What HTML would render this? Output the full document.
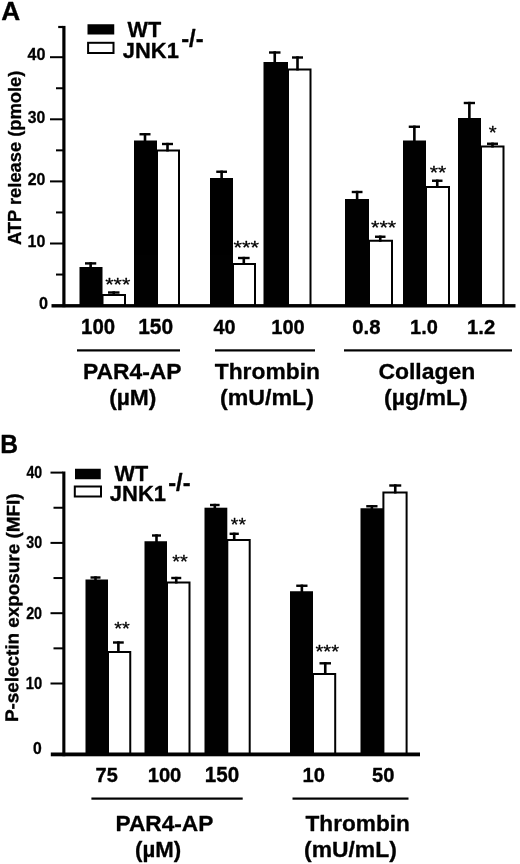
<!DOCTYPE html>
<html><head><meta charset="utf-8"><title>Figure</title>
<style>
html,body{margin:0;padding:0;background:#fff;}
body{width:520px;height:864px;overflow:hidden;font-family:"Liberation Sans",sans-serif;}
svg{display:block;will-change:transform;opacity:0.999;}
svg text{font-family:"Liberation Sans",sans-serif;fill:#000;stroke:#000;stroke-width:0.3px;stroke-linejoin:round;}
</style></head><body>
<svg width="520" height="864" viewBox="0 0 520 864">
<rect x="0" y="0" width="520" height="864" fill="#fff"/>
<rect x="102.50" y="295.00" width="22.50" height="10.60" fill="#fff" stroke="#000" stroke-width="2.0"/>
<rect x="108.00" y="291.30" width="11.50" height="2.40" fill="#000"/>
<rect x="112.45" y="291.30" width="2.60" height="4.70" fill="#000"/>
<rect x="79.50" y="267.00" width="23.00" height="38.60" fill="#000"/>
<rect x="85.00" y="262.20" width="11.25" height="2.40" fill="#000"/>
<rect x="89.33" y="262.20" width="2.60" height="5.80" fill="#000"/>
<rect x="157.00" y="150.50" width="22.00" height="155.10" fill="#fff" stroke="#000" stroke-width="2.0"/>
<rect x="162.00" y="142.80" width="11.00" height="2.40" fill="#000"/>
<rect x="166.20" y="142.80" width="2.60" height="8.70" fill="#000"/>
<rect x="134.00" y="140.50" width="23.00" height="165.10" fill="#000"/>
<rect x="139.50" y="133.05" width="11.00" height="2.40" fill="#000"/>
<rect x="143.70" y="133.05" width="2.60" height="8.45" fill="#000"/>
<rect x="233.00" y="264.00" width="22.00" height="41.60" fill="#fff" stroke="#000" stroke-width="2.0"/>
<rect x="238.00" y="256.80" width="11.60" height="2.40" fill="#000"/>
<rect x="242.50" y="256.80" width="2.60" height="8.20" fill="#000"/>
<rect x="210.00" y="178.00" width="23.00" height="127.60" fill="#000"/>
<rect x="216.25" y="170.55" width="10.75" height="2.40" fill="#000"/>
<rect x="220.32" y="170.55" width="2.60" height="8.45" fill="#000"/>
<rect x="288.00" y="69.50" width="22.50" height="236.10" fill="#fff" stroke="#000" stroke-width="2.0"/>
<rect x="292.00" y="56.30" width="11.00" height="2.40" fill="#000"/>
<rect x="296.20" y="56.30" width="2.60" height="14.20" fill="#000"/>
<rect x="263.50" y="62.00" width="24.50" height="243.60" fill="#000"/>
<rect x="269.00" y="51.30" width="11.50" height="2.40" fill="#000"/>
<rect x="273.45" y="51.30" width="2.60" height="11.70" fill="#000"/>
<rect x="369.00" y="240.75" width="23.00" height="64.85" fill="#fff" stroke="#000" stroke-width="2.0"/>
<rect x="375.00" y="235.55" width="10.50" height="2.40" fill="#000"/>
<rect x="378.95" y="235.55" width="2.60" height="6.20" fill="#000"/>
<rect x="345.00" y="199.00" width="24.00" height="106.60" fill="#000"/>
<rect x="351.75" y="190.80" width="10.75" height="2.40" fill="#000"/>
<rect x="355.82" y="190.80" width="2.60" height="9.20" fill="#000"/>
<rect x="426.00" y="187.00" width="23.00" height="118.60" fill="#fff" stroke="#000" stroke-width="2.0"/>
<rect x="432.00" y="179.55" width="10.50" height="2.40" fill="#000"/>
<rect x="435.95" y="179.55" width="2.60" height="8.45" fill="#000"/>
<rect x="403.00" y="140.50" width="23.00" height="165.10" fill="#000"/>
<rect x="408.75" y="125.55" width="11.25" height="2.40" fill="#000"/>
<rect x="413.07" y="125.55" width="2.60" height="15.95" fill="#000"/>
<rect x="481.00" y="146.50" width="22.50" height="159.10" fill="#fff" stroke="#000" stroke-width="2.0"/>
<rect x="487.00" y="142.55" width="11.00" height="2.40" fill="#000"/>
<rect x="491.20" y="142.55" width="2.60" height="4.95" fill="#000"/>
<rect x="458.00" y="118.00" width="23.00" height="187.60" fill="#000"/>
<rect x="463.75" y="101.80" width="11.25" height="2.40" fill="#000"/>
<rect x="468.07" y="101.80" width="2.60" height="17.20" fill="#000"/>
<rect x="62.30" y="25.90" width="3.20" height="281.30" fill="#000"/>
<rect x="51.50" y="304.10" width="464.00" height="3.40" fill="#000"/>
<rect x="50.00" y="242.50" width="13.00" height="2.00" fill="#000"/>
<rect x="50.00" y="180.40" width="13.00" height="2.00" fill="#000"/>
<rect x="50.00" y="118.30" width="13.00" height="2.00" fill="#000"/>
<rect x="50.00" y="56.20" width="13.00" height="2.00" fill="#000"/>
<rect x="56.00" y="273.55" width="7.00" height="2.00" fill="#000"/>
<rect x="56.00" y="211.45" width="7.00" height="2.00" fill="#000"/>
<rect x="56.00" y="149.35" width="7.00" height="2.00" fill="#000"/>
<rect x="56.00" y="87.25" width="7.00" height="2.00" fill="#000"/>
<rect x="58.20" y="25.90" width="4.80" height="2.20" fill="#000"/>
<text transform="translate(27.45,60.40) scale(1.0074,1.0487)" font-size="16" font-weight="bold">40</text>
<text transform="translate(27.83,122.50) scale(0.9851,1.0255)" font-size="16" font-weight="bold">30</text>
<text transform="translate(27.70,184.60) scale(0.9925,1.0332)" font-size="16" font-weight="bold">20</text>
<text transform="translate(27.60,246.70) scale(0.9984,1.0394)" font-size="16" font-weight="bold">10</text>
<text transform="translate(38.97,308.80) scale(1.0098,1.0512)" font-size="16" font-weight="bold">0</text>
<text transform="translate(81.12,334.40) scale(1.1342,1.1807)" font-size="18" font-weight="bold">100</text>
<text transform="translate(138.19,334.40) scale(1.1662,1.2140)" font-size="18" font-weight="bold">150</text>
<text transform="translate(213.47,334.40) scale(1.1026,1.1478)" font-size="18" font-weight="bold">40</text>
<text transform="translate(271.24,334.40) scale(1.1164,1.1622)" font-size="18" font-weight="bold">100</text>
<text transform="translate(352.25,334.40) scale(1.1284,1.1747)" font-size="18" font-weight="bold">0.8</text>
<text transform="translate(410.05,334.40) scale(1.1114,1.1569)" font-size="18" font-weight="bold">1.0</text>
<text transform="translate(467.03,334.40) scale(1.1286,1.1749)" font-size="18" font-weight="bold">1.2</text>
<rect x="77.00" y="349.30" width="103.00" height="2.20" fill="#000"/>
<rect x="215.00" y="349.30" width="100.00" height="2.20" fill="#000"/>
<rect x="344.00" y="349.30" width="168.00" height="2.20" fill="#000"/>
<text transform="translate(82.94,379.00) scale(1.0397,1.0182)" font-size="22" font-weight="bold">PAR4-AP</text>
<text transform="translate(109.13,404.50) scale(1.0368,1.0000)" font-size="22" font-weight="bold">(µM)</text>
<text transform="translate(214.74,379.00) scale(1.0383,1.0188)" font-size="22" font-weight="bold">Thrombin</text>
<text transform="translate(220.02,404.50) scale(1.0529,1.0000)" font-size="22" font-weight="bold">(mU/mL)</text>
<text transform="translate(378.39,379.00) scale(1.0435,1.0188)" font-size="22" font-weight="bold">Collagen</text>
<text transform="translate(384.02,404.50) scale(1.0486,1.0000)" font-size="22" font-weight="bold">(µg/mL)</text>
<text transform="translate(105.13,290.58) scale(0.9800,0.8516)" font-size="22" font-weight="normal">***</text>
<text transform="translate(233.43,254.28) scale(1.0000,0.8516)" font-size="22" font-weight="normal">***</text>
<text transform="translate(371.03,234.38) scale(0.9840,0.8516)" font-size="22" font-weight="normal">***</text>
<text transform="translate(429.64,179.18) scale(0.9697,0.8516)" font-size="22" font-weight="normal">**</text>
<text transform="translate(488.65,139.18) scale(0.9270,0.8516)" font-size="22" font-weight="normal">*</text>
<rect x="87.50" y="24.25" width="26.75" height="10.25" fill="#000"/>
<rect x="88.1" y="42.8" width="25.4" height="10.2" fill="#fff" stroke="#000" stroke-width="2"/>
<text transform="translate(127.60,37.30) scale(1.0308,1.0730)" font-size="21" font-weight="bold">WT</text>
<text transform="translate(122.81,57.50) scale(1.0464,1.0893)" font-size="21" font-weight="bold">JNK1</text>
<text transform="translate(181.16,46.90) scale(1.0771,1.1213)" font-size="22" font-weight="bold">-/-</text>
<text transform="translate(1.32,20.00) scale(1.0938,1.0485)" font-size="24" font-weight="bold">A</text>
<text transform="translate(20.80,245.02) rotate(-90.000) scale(1.0475,1.0333)" font-size="17.5" font-weight="bold">ATP release (pmole)</text>
<rect x="108.00" y="652.00" width="22.25" height="102.50" fill="#fff" stroke="#000" stroke-width="2.0"/>
<rect x="113.00" y="641.30" width="10.75" height="2.40" fill="#000"/>
<rect x="117.08" y="641.30" width="2.60" height="11.70" fill="#000"/>
<rect x="85.50" y="579.50" width="22.50" height="175.00" fill="#000"/>
<rect x="90.50" y="576.30" width="10.00" height="2.40" fill="#000"/>
<rect x="94.20" y="576.30" width="2.60" height="4.20" fill="#000"/>
<rect x="167.00" y="582.50" width="22.50" height="172.00" fill="#fff" stroke="#000" stroke-width="2.0"/>
<rect x="171.25" y="576.80" width="10.00" height="2.40" fill="#000"/>
<rect x="174.95" y="576.80" width="2.60" height="6.70" fill="#000"/>
<rect x="144.50" y="541.25" width="22.50" height="213.25" fill="#000"/>
<rect x="152.00" y="534.30" width="9.00" height="2.40" fill="#000"/>
<rect x="155.20" y="534.30" width="2.60" height="7.95" fill="#000"/>
<rect x="227.30" y="540.00" width="22.40" height="214.50" fill="#fff" stroke="#000" stroke-width="2.0"/>
<rect x="229.60" y="532.60" width="9.20" height="2.40" fill="#000"/>
<rect x="232.90" y="532.60" width="2.60" height="8.40" fill="#000"/>
<rect x="204.50" y="507.70" width="22.80" height="246.80" fill="#000"/>
<rect x="210.00" y="503.80" width="9.60" height="2.40" fill="#000"/>
<rect x="213.50" y="503.80" width="2.60" height="4.90" fill="#000"/>
<rect x="313.00" y="674.00" width="22.20" height="80.50" fill="#fff" stroke="#000" stroke-width="2.0"/>
<rect x="319.50" y="662.10" width="11.50" height="2.40" fill="#000"/>
<rect x="323.95" y="662.10" width="2.60" height="12.90" fill="#000"/>
<rect x="290.00" y="591.25" width="23.00" height="163.25" fill="#000"/>
<rect x="296.25" y="584.55" width="11.25" height="2.40" fill="#000"/>
<rect x="300.57" y="584.55" width="2.60" height="7.70" fill="#000"/>
<rect x="383.40" y="492.50" width="23.20" height="262.00" fill="#fff" stroke="#000" stroke-width="2.0"/>
<rect x="389.25" y="484.30" width="12.00" height="2.40" fill="#000"/>
<rect x="393.95" y="484.30" width="2.60" height="9.20" fill="#000"/>
<rect x="360.50" y="508.25" width="23.50" height="246.25" fill="#000"/>
<rect x="366.25" y="505.05" width="11.25" height="2.40" fill="#000"/>
<rect x="370.57" y="505.05" width="2.60" height="4.20" fill="#000"/>
<rect x="62.30" y="471.50" width="3.10" height="284.70" fill="#000"/>
<rect x="50.80" y="752.50" width="369.20" height="3.80" fill="#000"/>
<rect x="50.50" y="682.50" width="12.50" height="2.00" fill="#000"/>
<rect x="50.50" y="612.20" width="12.50" height="2.00" fill="#000"/>
<rect x="50.50" y="541.90" width="12.50" height="2.00" fill="#000"/>
<rect x="50.50" y="471.60" width="12.50" height="2.00" fill="#000"/>
<rect x="53.50" y="647.35" width="9.50" height="2.00" fill="#000"/>
<rect x="53.50" y="577.05" width="9.50" height="2.00" fill="#000"/>
<rect x="53.50" y="506.75" width="9.50" height="2.00" fill="#000"/>
<text transform="translate(26.38,478.10) scale(0.8830,1.0157)" font-size="16" font-weight="bold">40</text>
<text transform="translate(26.27,548.40) scale(0.8896,1.0157)" font-size="16" font-weight="bold">30</text>
<text transform="translate(26.15,618.70) scale(0.8962,1.0157)" font-size="16" font-weight="bold">20</text>
<text transform="translate(25.68,689.00) scale(0.9240,1.0157)" font-size="16" font-weight="bold">10</text>
<text transform="translate(33.09,754.40) scale(0.9836,1.0157)" font-size="16" font-weight="bold">0</text>
<text transform="translate(95.57,782.00) scale(1.1093,1.1548)" font-size="18" font-weight="bold">75</text>
<text transform="translate(147.64,782.00) scale(1.1236,1.1696)" font-size="18" font-weight="bold">100</text>
<text transform="translate(204.81,782.00) scale(1.1449,1.1918)" font-size="18" font-weight="bold">150</text>
<text transform="translate(302.54,782.00) scale(1.1200,1.1659)" font-size="18" font-weight="bold">10</text>
<text transform="translate(371.90,782.00) scale(1.1221,1.1682)" font-size="18" font-weight="bold">50</text>
<rect x="91.40" y="797.50" width="151.30" height="2.20" fill="#000"/>
<rect x="292.50" y="797.50" width="116.00" height="2.20" fill="#000"/>
<text transform="translate(115.45,831.30) scale(1.0321,0.9983)" font-size="22" font-weight="bold">PAR4-AP</text>
<text transform="translate(135.06,857.00) scale(1.0115,1.0000)" font-size="22" font-weight="bold">(µM)</text>
<text transform="translate(305.54,831.30) scale(1.0293,1.0000)" font-size="22" font-weight="bold">Thrombin</text>
<text transform="translate(304.03,857.00) scale(1.0402,1.0000)" font-size="22" font-weight="bold">(mU/mL)</text>
<text transform="translate(114.16,635.38) scale(0.9091,0.8516)" font-size="22" font-weight="normal">**</text>
<text transform="translate(172.16,567.88) scale(0.9091,0.8516)" font-size="22" font-weight="normal">**</text>
<text transform="translate(230.87,531.28) scale(0.8848,0.8516)" font-size="22" font-weight="normal">**</text>
<text transform="translate(315.40,657.88) scale(0.9200,0.8516)" font-size="22" font-weight="normal">***</text>
<rect x="75.00" y="468.75" width="25.75" height="10.50" fill="#000"/>
<rect x="74.8" y="486.5" width="26.2" height="10" fill="#fff" stroke="#000" stroke-width="2"/>
<text transform="translate(114.60,480.90) scale(1.0308,1.0730)" font-size="21" font-weight="bold">WT</text>
<text transform="translate(109.81,501.25) scale(1.0483,1.0913)" font-size="21" font-weight="bold">JNK1</text>
<text transform="translate(168.26,490.80) scale(1.0719,1.1158)" font-size="22" font-weight="bold">-/-</text>
<text transform="translate(0.33,452.50) scale(1.0256,1.0485)" font-size="24" font-weight="bold">B</text>
<text transform="translate(18.00,722.01) rotate(-89.580) scale(1.0786,1.0500)" font-size="17.5" font-weight="bold">P-selectin exposure (MFI)</text>
</svg>
</body></html>
